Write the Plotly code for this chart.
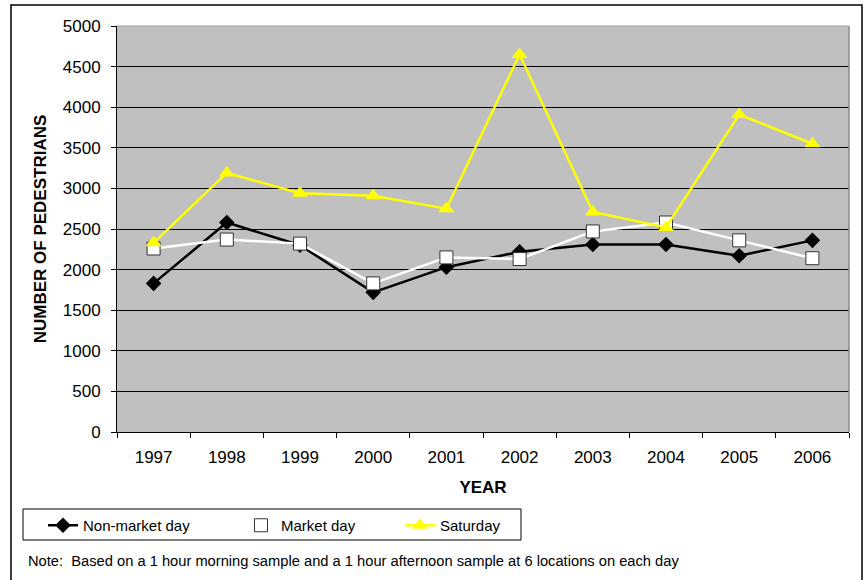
import plotly.graph_objects as go

years = ["1997", "1998", "1999", "2000", "2001", "2002", "2003", "2004", "2005", "2006"]
non_market = [1830, 2580, 2300, 1720, 2030, 2220, 2310, 2310, 2170, 2360]
market = [2260, 2370, 2320, 1830, 2150, 2130, 2470, 2580, 2360, 2140]
saturday = [2330, 3190, 2940, 2910, 2750, 4650, 2710, 2520, 3910, 3550]

FONT = "Liberation Sans, Arial, sans-serif"

W, H = 868, 580
L, R, T, B = 117, 849, 26, 432
pw, ph = R - L, B - T


def px_x(x):
    return (x - L) / pw


def px_y(y):
    return (B - y) / ph


fig = go.Figure()
fig.add_trace(go.Scatter(
    x=years, y=non_market, name="Non-market day", mode="lines+markers",
    line=dict(color="black", width=2.5),
    marker=dict(symbol="diamond", size=12, color="black"),
    legendwidth=153,
))
fig.add_trace(go.Scatter(
    x=years, y=market, name="Market day", mode="lines+markers",
    line=dict(color="white", width=2.5),
    marker=dict(symbol="square", size=13, color="white", line=dict(color="#333333", width=1)),
    legendwidth=114,
))
fig.add_trace(go.Scatter(
    x=years, y=saturday, name="Saturday", mode="lines+markers",
    line=dict(color="#FFFF00", width=2.5),
    marker=dict(symbol="triangle-up", size=14, color="#FFFF00"),
    legendwidth=70,
))

fig.update_layout(
    width=W, height=H,
    margin=dict(l=L, r=W - R, t=T, b=H - B),
    paper_bgcolor="white",
    plot_bgcolor="#C0C0C0",
    font=dict(family=FONT, size=17, color="black"),
    showlegend=True,
    legend=dict(
        orientation="h",
        x=px_x(43), xanchor="left",
        y=px_y(509), yanchor="top",
        borderwidth=0,
        bgcolor="rgba(0,0,0,0)",
        font=dict(family=FONT, size=15, color="black"),
        tracegroupgap=0,
    ),
    xaxis=dict(
        type="category",
        range=[-0.5, 9.5],
        tickson="boundaries",
        ticks="outside", ticklen=5, tickcolor="black",
        showline=True, linecolor="black", linewidth=1,
        showgrid=False, zeroline=False,
        tickfont=dict(family=FONT, size=17),
        ticklabelstandoff=10,
        title=dict(text="<b>YEAR</b>", font=dict(family=FONT, size=17), standoff=14),
    ),
    yaxis=dict(
        range=[0, 5000], dtick=500,
        ticks="outside", ticklen=5, tickcolor="black",
        showline=True, linecolor="black", linewidth=1,
        showgrid=True, gridcolor="black", gridwidth=1,
        zeroline=False,
        tickfont=dict(family=FONT, size=17),
        ticklabelstandoff=7,
        title=dict(text="<b>NUMBER OF PEDESTRIANS</b>", font=dict(family=FONT, size=17), standoff=11),
    ),
    shapes=[
        # outer chart border
        dict(type="rect", xref="paper", yref="paper",
             x0=px_x(11), x1=px_x(862), y0=px_y(590), y1=px_y(5),
             line=dict(color="black", width=1.5), layer="below"),
        # legend box
        dict(type="rect", xref="paper", yref="paper",
             x0=px_x(23), x1=px_x(521), y0=px_y(540), y1=px_y(509),
             line=dict(color="black", width=1), layer="below"),
        # plot area top/right edge
        dict(type="line", xref="paper", yref="paper",
             x0=1, x1=1, y0=0, y1=1, line=dict(color="#8C8C8C", width=1.5)),
        dict(type="line", xref="paper", yref="paper",
             x0=0, x1=1, y0=1, y1=1, line=dict(color="#A0A0A0", width=1)),
    ],
    annotations=[
        dict(text="Note:  Based on a 1 hour morning sample and a 1 hour afternoon sample at 6 locations on each day",
             xref="paper", yref="paper", x=px_x(26), y=px_y(561),
             xanchor="left", yanchor="middle", showarrow=False,
             font=dict(family=FONT, size=14.7, color="black")),
    ],
)

fig.write_html("out.html", config={"displayModeBar": False},
               post_script="document.body.style.margin='0';")
